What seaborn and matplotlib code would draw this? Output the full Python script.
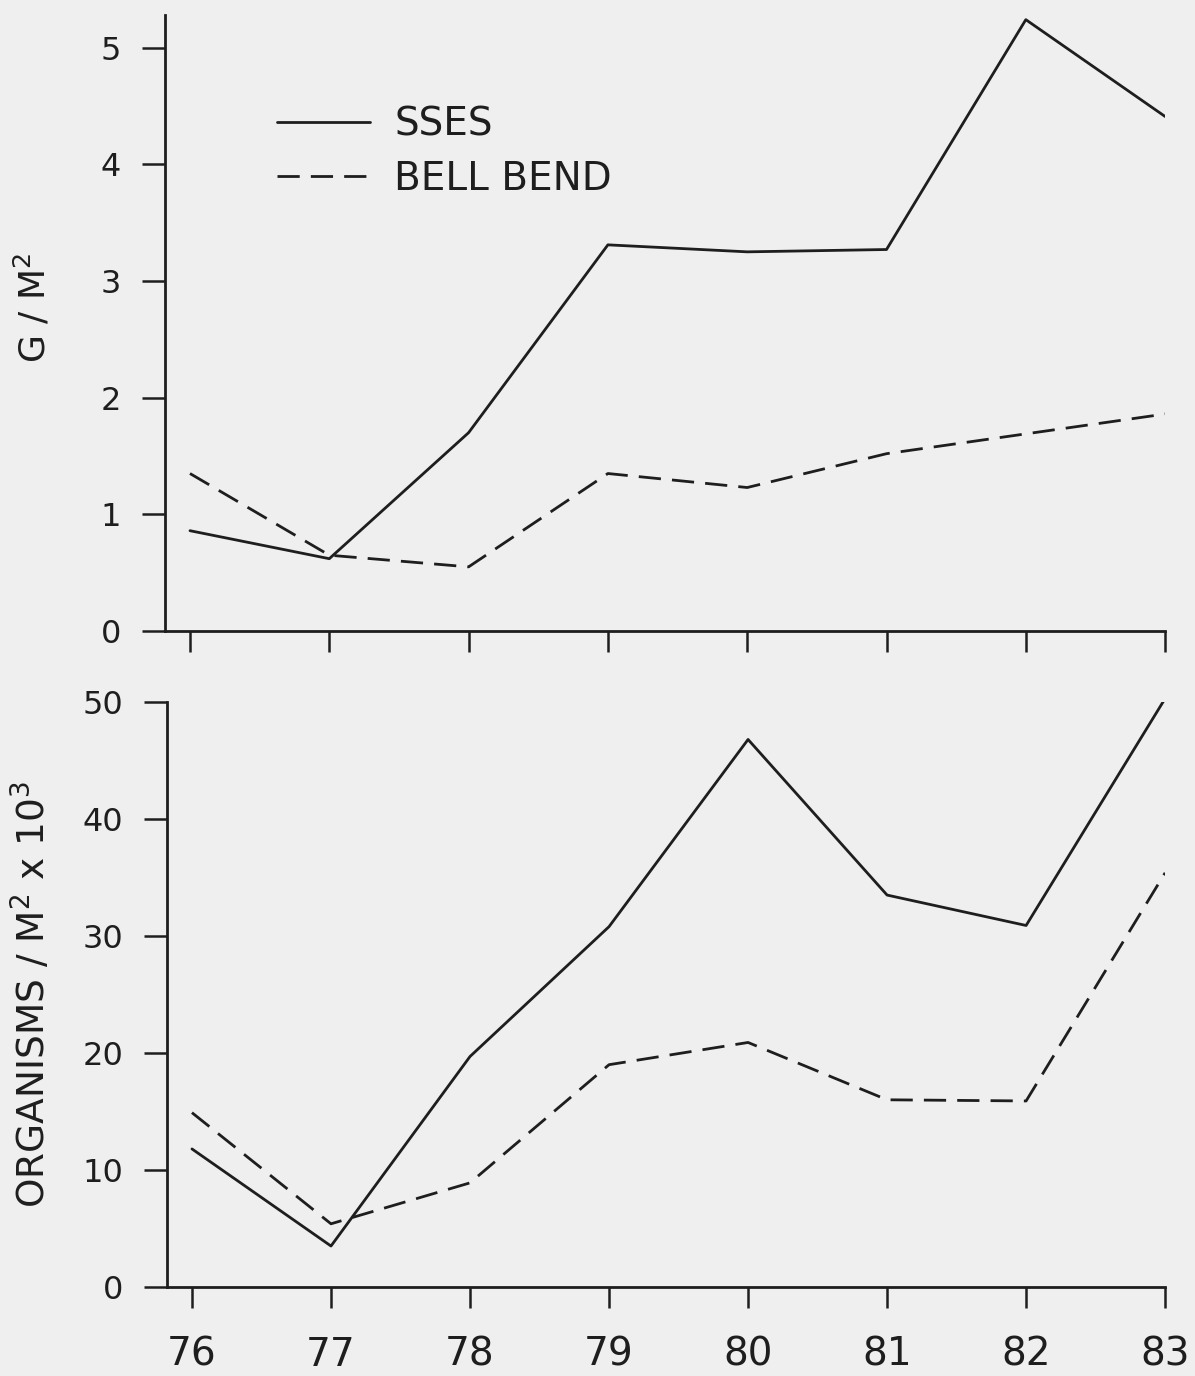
import matplotlib
matplotlib.use("Agg")
import matplotlib.pyplot as plt
import seaborn as sns
import pandas as pd

# ---- data ----
years = [76, 77, 78, 79, 80, 81, 82, 83]
year_labels = ["76", "77", "78", "79", "80", "81", "82", "83"]
sites = ["SSES", "BELL BEND"]

sses_biomass = [0.86, 0.62, 1.70, 3.31, 3.25, 3.27, 5.24, 4.41]
bell_biomass = [1.35, 0.65, 0.55, 1.35, 1.23, 1.52, 1.69, 1.86]

sses_density = [11.8, 3.5, 19.7, 30.8, 46.8, 33.5, 30.9, 50.3]
bell_density = [14.9, 5.4, 8.9, 19.0, 20.9, 16.0, 15.9, 35.4]

biomass_ticks = [0, 1, 2, 3, 4, 5]
density_ticks = [0, 10, 20, 30, 40, 50]

df_top = pd.DataFrame({
    "year": years * 2,
    "value": sses_biomass + bell_biomass,
    "site": [sites[0]] * len(years) + [sites[1]] * len(years),
})
df_bot = pd.DataFrame({
    "year": years * 2,
    "value": sses_density + bell_density,
    "site": [sites[0]] * len(years) + [sites[1]] * len(years),
})

sns.set_style("ticks")
plt.rcParams["font.family"] = ["DejaVu Sans"]
plt.rcParams["mathtext.fontset"] = "dejavusans"

bg = "#efefef"
ink = "#1e1e1e"

fig = plt.figure(figsize=(11.95, 13.76), dpi=100, facecolor=bg)
ax1 = fig.add_axes([0.138, 0.5414, 0.837, 0.4477])
ax2 = fig.add_axes([0.1397, 0.0647, 0.8353, 0.4251])

dash_map = {"SSES": "", "BELL BEND": (8.0, 4.0)}

for ax, df in [(ax1, df_top), (ax2, df_bot)]:
    ax.set_facecolor(bg)
    sns.lineplot(data=df, x="year", y="value", style="site", style_order=sites,
                 dashes=dash_map, color=ink, linewidth=2.0, ax=ax, legend=True)
    for s in ["top", "right"]:
        ax.spines[s].set_visible(False)
    for s in ["left", "bottom"]:
        ax.spines[s].set_linewidth(2.0)
        ax.spines[s].set_color(ink)
    ax.set_xlim(75.82, 83)
    ax.set_xticks(years)
    ax.tick_params(axis="both", direction="out", width=1.8, color=ink,
                   labelcolor=ink)
    ax.tick_params(axis="y", length=16.5, pad=15, labelsize=23)
    ax.tick_params(axis="x", length=15, pad=20, labelsize=28)
    ax.set_xlabel("")

# top panel
ax1.set_ylim(0, 5.28)
ax1.set_yticks(biomass_ticks)
ax1.set_yticklabels([str(t) for t in biomass_ticks])
ax1.set_xticklabels([])
ax1.set_ylabel("G / M$^2$", fontsize=26, color=ink)
ax1.yaxis.set_label_coords(-0.112, 0.524)
handles, labels = ax1.get_legend_handles_labels()
ax1.get_legend().remove()
leg = ax1.legend(handles, labels, loc="upper left", bbox_to_anchor=(0.112, 0.853),
                 frameon=False, fontsize=28, handlelength=2.4, handletextpad=0.62,
                 labelspacing=0.42, borderpad=0, borderaxespad=0)
for t in leg.get_texts():
    t.set_color(ink)
for h in leg.get_lines():
    h.set_linewidth(2.0)

# bottom panel
ax2.set_ylim(0, 50)
ax2.set_yticks(density_ticks)
ax2.set_yticklabels([str(t) for t in density_ticks])
ax2.set_xticklabels(year_labels)
ax2.set_ylabel("ORGANISMS / M$^2$ x 10$^3$", fontsize=27, color=ink)
ax2.yaxis.set_label_coords(-0.114, 0.5)
ax2.get_legend().remove()

fig.savefig("out.png", dpi=100, facecolor=bg)
